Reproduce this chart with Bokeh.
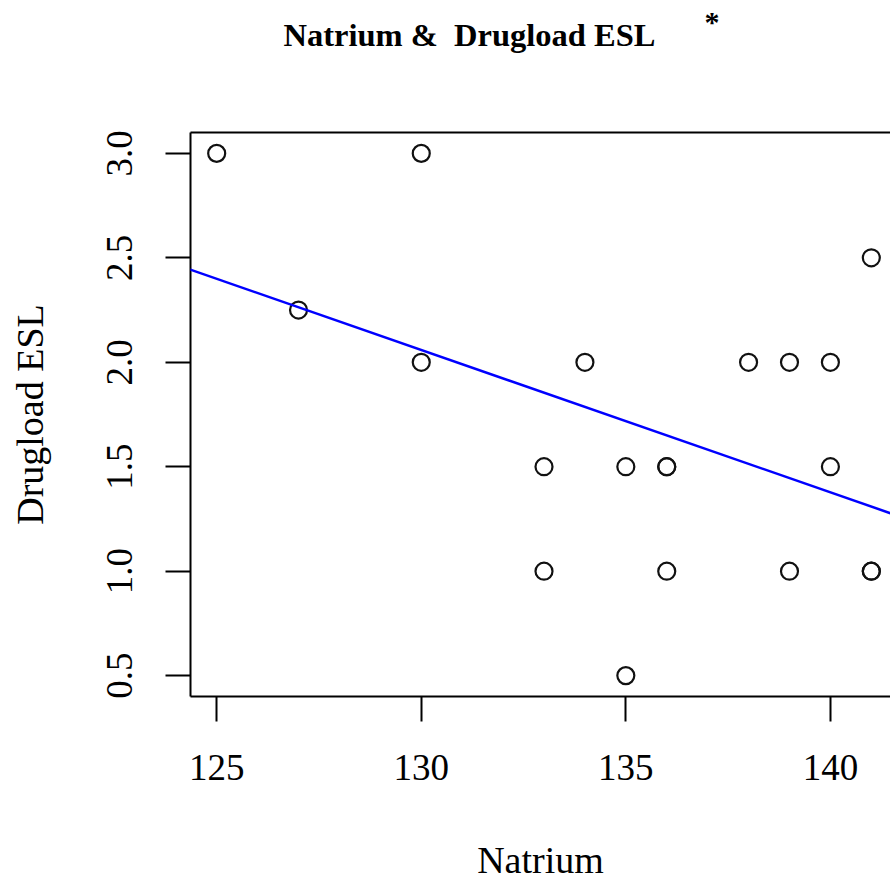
import numpy as np
from bokeh.plotting import figure
from bokeh.models import (Range1d, FixedTicker, LinearAxis, Slope, Title,
                          CustomJSTickFormatter)
from bokeh.embed import file_html
from bokeh.resources import INLINE

# ---- data ----
natrium = [125, 130, 127, 130, 134, 138, 139, 140, 141, 133,
           135, 136, 136, 140, 133, 136, 139, 141, 141, 135]
drugload = [3.0, 3.0, 2.25, 2.0, 2.0, 2.0, 2.0, 2.0, 2.5, 1.5,
            1.5, 1.5, 1.5, 1.5, 1.0, 1.0, 1.0, 1.0, 1.0, 0.5]
x_ticks = [125, 130, 135, 140]
y_ticks = [0.5, 1.0, 1.5, 2.0, 2.5, 3.0]
y_tick_labels = {0.5: "0.5", 1.0: "1.0", 1.5: "1.5", 2.0: "2.0", 2.5: "2.5", 3.0: "3.0"}
title_text = "Natrium &\u00a0 Drugload ESL"
title_mark = "*"
x_label = "Natrium"
y_label = "Drugload ESL"

# ---- layout ----
W, H = 890, 883
left, top, bottom = 190, 132, 187
frame_w = W - left          # visible frame width
full_frame_w = 707          # R's full plot region (cut by the window)

xmin, xmax = min(natrium), max(natrium)
ymin, ymax = min(drugload), max(drugload)
x0 = xmin - 0.04 * (xmax - xmin)
x1_full = xmax + 0.04 * (xmax - xmin)
x1 = x0 + (x1_full - x0) * frame_w / full_frame_w
y0 = ymin - 0.04 * (ymax - ymin)
y1 = ymax + 0.04 * (ymax - ymin)

FONT = "Liberation Serif"

p = figure(width=W, height=H, output_backend="svg", toolbar_location=None,
           x_range=Range1d(x0, x1), y_range=Range1d(y0, y1),
           min_border_left=left, min_border_right=0,
           min_border_top=top, min_border_bottom=bottom,
           background_fill_color="white", border_fill_color="white")
p.outline_line_color = None
p.grid.visible = False

for ax in (p.xaxis[0], p.yaxis[0]):
    ax.axis_line_color = "black"
    ax.axis_line_width = 2
    ax.major_tick_line_color = "black"
    ax.major_tick_line_width = 2
    ax.major_tick_out = 25
    ax.major_tick_in = 0
    ax.minor_tick_line_color = None
    ax.major_label_text_font = FONT
    ax.major_label_text_font_size = "37px"
    ax.major_label_text_color = "black"
    ax.axis_label_text_font = FONT
    ax.axis_label_text_font_size = "38px"
    ax.axis_label_text_font_style = "normal"
    ax.axis_label_text_color = "black"

p.xaxis[0].ticker = FixedTicker(ticks=x_ticks)
p.xaxis[0].axis_label = x_label
p.xaxis[0].major_label_standoff = 33
p.xaxis[0].axis_label_standoff = 56

p.yaxis[0].ticker = FixedTicker(ticks=y_ticks)
p.yaxis[0].major_label_overrides = y_tick_labels
p.yaxis[0].major_label_orientation = "vertical"
p.yaxis[0].axis_label = y_label
p.yaxis[0].major_label_standoff = 33
p.yaxis[0].axis_label_standoff = 54

# top border of the box; its (invisible) tick space keeps the title rows high
top_axis = LinearAxis(ticker=FixedTicker(ticks=x_ticks[:1]),
                      formatter=CustomJSTickFormatter(code="return ''"),
                      axis_line_color="black", axis_line_width=2,
                      major_tick_line_color=None, minor_tick_line_color=None,
                      major_tick_out=94, major_tick_in=0,
                      minor_tick_out=0, minor_tick_in=0,
                      major_label_text_font_size="1px",
                      major_label_standoff=0, axis_label_standoff=0)
p.add_layout(top_axis, "above")

# main title and its superscript mark (outer row)
main_title = Title(text=title_text, text_font=FONT, text_font_size="32.5px",
                   text_font_style="bold", text_color="black",
                   align="left", offset=93, standoff=-28)
p.add_layout(main_title, "above")
p.title.text = title_mark
p.title.text_font = FONT
p.title.text_font_size = "30px"
p.title.text_font_style = "bold"
p.title.text_color = "black"
p.title.align = "left"
p.title.offset = 514
p.title.standoff = -19

# points
p.scatter(natrium, drugload, marker="circle", size=17, fill_color=None,
          line_color="#111111", line_width=2.2)

# least-squares line (abline of lm)
slope, intercept = np.polyfit(natrium, drugload, 1)
p.add_layout(Slope(gradient=slope, y_intercept=intercept,
                   line_color="#0000ff", line_width=2.5))

open("out.html", "w").write(file_html(p, INLINE))
